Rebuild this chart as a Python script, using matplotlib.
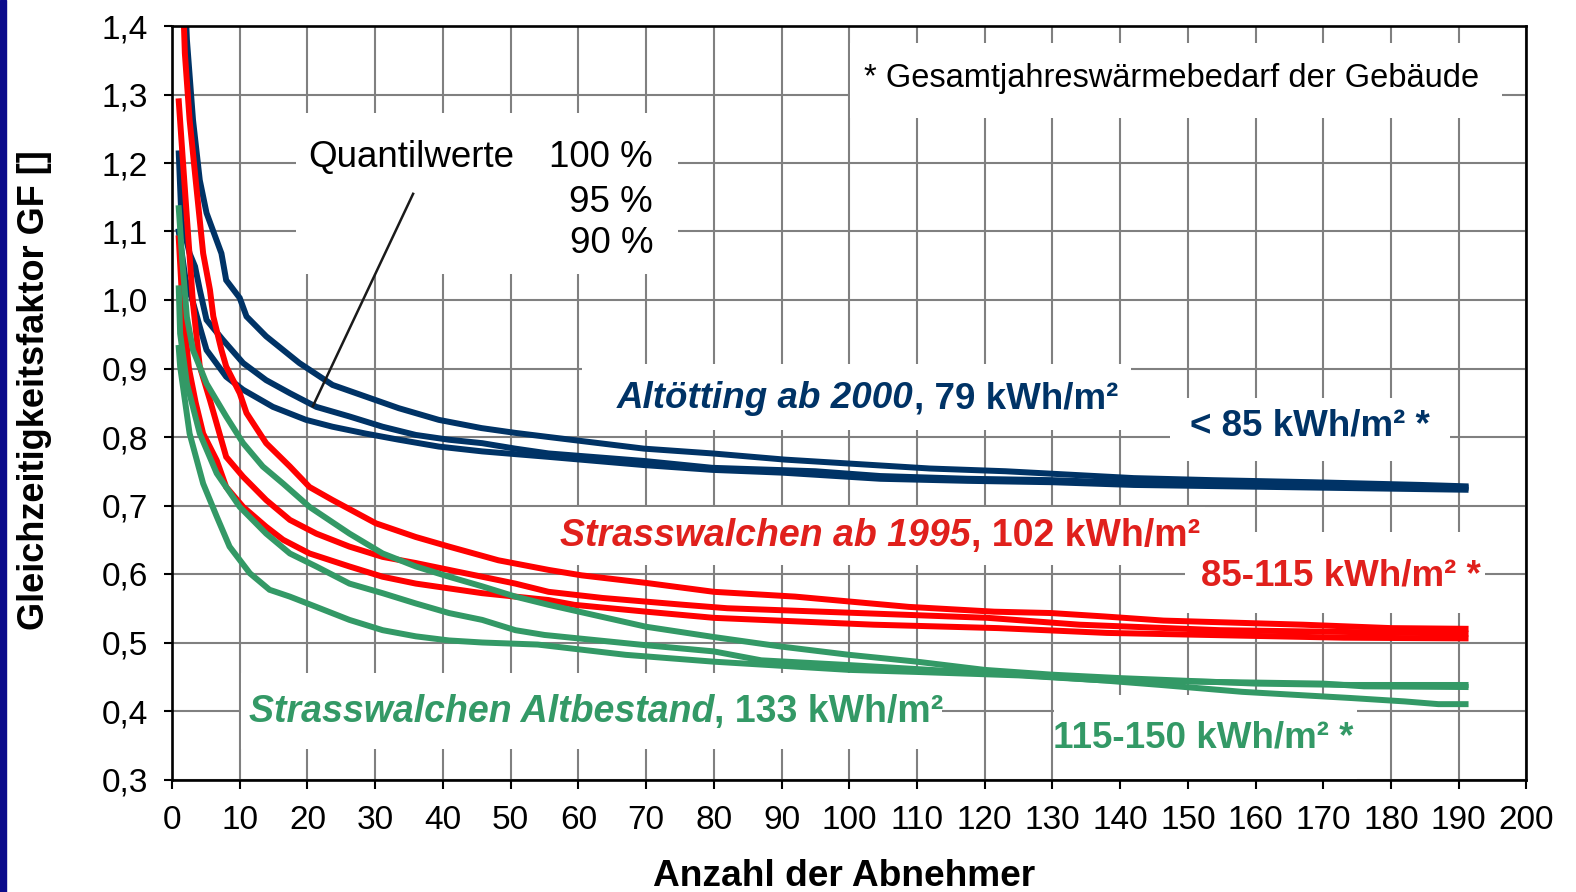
import matplotlib
matplotlib.use("Agg")
import matplotlib.pyplot as plt
from matplotlib.patches import Rectangle

plt.rcParams["font.family"] = ["Liberation Sans", "DejaVu Sans"]

W, H = 1576, 892

# Gleichzeitigkeitsfaktor curves (x = Anzahl der Abnehmer)
blue_100_x = [1.6, 2.2, 3.1, 4.1, 5.1, 7.3, 8, 10, 11, 13.9, 18.8, 23.7, 28.6, 33.5, 39.4, 45.7, 50.7, 55.6,
              69.7, 79.8, 90.5, 111.9, 123.1, 142, 153.6, 168.3, 184.5, 191]
blue_100_y = [1.52, 1.38, 1.263, 1.175, 1.127, 1.068, 1.029, 1.003, 0.976, 0.947, 0.908, 0.876, 0.859, 0.842,
              0.825, 0.813, 0.806, 0.80, 0.783, 0.776, 0.767, 0.754, 0.75, 0.740, 0.737, 0.734, 0.73, 0.728]
blue_95_x = [1, 1.4, 2.6, 3.4, 4.1, 5.1, 7.5, 10.5, 13.9, 17.4, 21.3, 26.2, 31.1, 36, 40.9, 45.8, 50.7, 55.6,
             69.7, 79.8, 95, 104.6, 117.5, 129.9, 142, 191]
blue_95_y = [1.214, 1.117, 1.068, 1.049, 1.015, 0.971, 0.942, 0.908, 0.883, 0.864, 0.844, 0.83, 0.815, 0.803,
             0.796, 0.791, 0.783, 0.776, 0.765, 0.755, 0.75, 0.743, 0.739, 0.737, 0.733, 0.726]
blue_90_x = [1, 2, 3, 4.1, 5.1, 8, 10.5, 14.9, 19.8, 23.7, 28.6, 33.5, 39.4, 45.8, 55.6, 69.7, 79.8, 90,
             104.6, 117.5, 129.9, 142, 191]
blue_90_y = [1.10, 1.03, 1.0, 0.961, 0.927, 0.888, 0.869, 0.844, 0.825, 0.815, 0.805, 0.796, 0.786, 0.779,
             0.771, 0.759, 0.752, 0.748, 0.739, 0.736, 0.734, 0.73, 0.723]

red_100_x = [1.5, 1.9, 2.6, 3.6, 4.6, 5.6, 6.1, 7.3, 8, 10, 11, 13.9, 17.4, 20.3, 23.7, 30.1, 36, 40.9, 48.2,
             55.6, 60.5, 70, 80, 92, 108.8, 121.4, 129.8, 137.7, 146.4, 167, 180, 191]
red_100_y = [1.48, 1.36, 1.263, 1.165, 1.068, 1.015, 0.976, 0.927, 0.903, 0.864, 0.835, 0.791, 0.757, 0.727,
             0.708, 0.674, 0.654, 0.64, 0.62, 0.606, 0.598, 0.587, 0.574, 0.567, 0.552, 0.545, 0.543, 0.538,
             0.532, 0.526, 0.521, 0.52]
red_95_x = [1, 1.7, 2.4, 3.1, 4.1, 5.6, 8, 10.5, 13.9, 17.4, 21.3, 26.2, 31.1, 36, 40.9, 45.8, 50.7, 55.6,
            63.6, 75.6, 82, 101.4, 120.4, 134, 154.7, 176, 191]
red_95_y = [1.29, 1.19, 1.092, 0.995, 0.903, 0.854, 0.771, 0.742, 0.708, 0.679, 0.659, 0.64, 0.625, 0.616,
            0.606, 0.596, 0.586, 0.574, 0.565, 0.555, 0.55, 0.543, 0.536, 0.526, 0.518, 0.515, 0.513]
red_90_x = [1, 1.5, 2.5, 3.5, 4.6, 6.6, 8, 10.5, 13.9, 16.4, 20.3, 26.2, 31.1, 36, 45.8, 55.6, 59.4, 70, 80,
            103.6, 122, 138, 173, 191]
red_90_y = [1.09, 1.0, 0.9, 0.85, 0.805, 0.766, 0.727, 0.698, 0.669, 0.65, 0.63, 0.611, 0.596, 0.586, 0.572,
            0.562, 0.555, 0.545, 0.536, 0.526, 0.521, 0.514, 0.507, 0.506]

green_100_x = [1, 1.5, 2.2, 3.1, 5.1, 8, 10.5, 13.4, 16.4, 20.3, 26.2, 31.1, 36, 40.9, 45.8, 50.7, 55.6, 70,
               80, 90, 100, 110, 120, 130, 140, 160, 174, 191]
green_100_y = [1.134, 1.06, 0.975, 0.927, 0.878, 0.83, 0.791, 0.757, 0.732, 0.698, 0.659, 0.63, 0.611, 0.596,
               0.582, 0.567, 0.555, 0.523, 0.508, 0.494, 0.482, 0.472, 0.46, 0.453, 0.448, 0.44, 0.438, 0.438]
green_95_x = [1, 1.2, 2.2, 4.1, 6.6, 10, 13.9, 17.4, 21.3, 26.2, 31.1, 36, 40.9, 45.8, 50.7, 55, 70, 80, 87,
              100, 112, 125, 137, 150, 170, 176, 191]
green_95_y = [1.017, 0.951, 0.878, 0.805, 0.747, 0.698, 0.659, 0.63, 0.611, 0.586, 0.572, 0.557, 0.543, 0.533,
              0.518, 0.511, 0.496, 0.487, 0.474, 0.467, 0.46, 0.453, 0.445, 0.443, 0.44, 0.436, 0.435]
green_90_x = [1, 1.2, 2.6, 4.6, 6.6, 8.5, 11.5, 14.4, 17.4, 21.3, 26.2, 31.1, 36, 40.9, 45.8, 54, 67, 80, 100,
              110, 125, 137, 146, 158, 174, 182, 187, 191]
green_90_y = [0.93, 0.903, 0.805, 0.732, 0.684, 0.64, 0.601, 0.577, 0.567, 0.552, 0.533, 0.518, 0.509, 0.503,
              0.50, 0.497, 0.482, 0.472, 0.46, 0.457, 0.452, 0.445, 0.438, 0.428, 0.419, 0.414, 0.41, 0.41]

pointer_x = [35.6, 20.8]
pointer_y = [1.155, 0.845]

x_ticks = list(range(0, 201, 10))
y_ticks = [0.3, 0.4, 0.5, 0.6, 0.7, 0.8, 0.9, 1.0, 1.1, 1.2, 1.3, 1.4]
y_ticklabels = ["0,3", "0,4", "0,5", "0,6", "0,7", "0,8", "0,9", "1,0", "1,1", "1,2", "1,3", "1,4"]

navy = "#003366"
red = "#ff0000"
green = "#339966"
red_txt = "#e0201c"

fig = plt.figure(figsize=(W / 100, H / 100), dpi=100)
ax_l, ax_r, ax_t, ax_b = 172, 1526.5, 26, 779.5
ax = fig.add_axes([ax_l / W, 1 - ax_b / H, (ax_r - ax_l) / W, (ax_b - ax_t) / H])

# dark blue slide border on the left
fig.patches.append(Rectangle((0, 0), 6 / W, 1, transform=fig.transFigure, color="#0b0b8b", zorder=0))

ax.set_xlim(0, 200)
ax.set_ylim(0.3, 1.4)
ax.set_xticks(x_ticks)
ax.set_yticks(y_ticks)
ax.set_yticklabels(y_ticklabels)
ax.tick_params(axis="x", length=6.5, width=1.5, pad=12, labelsize=24)
ax.tick_params(axis="y", length=6, width=1.5, pad=11.5, labelsize=24)
ax.set_axisbelow(True)
ax.grid(True, color="#808080", linewidth=1.5)
for s in ax.spines.values():
    s.set_linewidth(1.9)
    s.set_color("black")


def px_box(x0, y0, x1, y1):
    # white box behind labels, pixel coords of the picture
    ax.add_patch(Rectangle(((x0 - ax_l) / (ax_r - ax_l), (ax_b - y1) / (ax_b - ax_t)),
                           (x1 - x0) / (ax_r - ax_l), (y1 - y0) / (ax_b - ax_t),
                           transform=ax.transAxes, facecolor="white", edgecolor="none", zorder=1.5))


px_box(850, 43, 1502, 118)
px_box(296, 113, 678, 274)
px_box(582, 364, 1131, 430)
px_box(1170, 398, 1450, 461)
px_box(550, 507, 1205, 565)
px_box(1185, 532, 1485, 613)
px_box(241, 673, 942, 749)
px_box(1054, 695, 1357, 779)

for xs, ys, c in [(blue_100_x, blue_100_y, navy), (blue_95_x, blue_95_y, navy), (blue_90_x, blue_90_y, navy),
                  (red_100_x, red_100_y, red), (red_95_x, red_95_y, red), (red_90_x, red_90_y, red),
                  (green_100_x, green_100_y, green), (green_95_x, green_95_y, green),
                  (green_90_x, green_90_y, green)]:
    ax.plot(xs, ys, color=c, linewidth=4.3, solid_joinstyle="miter", zorder=2)

ax.plot(pointer_x, pointer_y, color="#1a1a1a", linewidth=1.8, zorder=3)


def ftext(x, y, s, **kw):
    return fig.text(x / W, 1 - y / H, s, va="baseline", **kw)


def two_part(x, y, first, rest, color, size=26.5):
    t1 = ftext(x, y, first, color=color, fontsize=size, fontweight="bold", fontstyle="italic", zorder=5)
    ax.annotate(rest, xy=(1, 0), xycoords=t1, va="bottom", ha="left", color=color, fontsize=size,
                fontweight="bold", annotation_clip=False, zorder=5)


ftext(864, 87, "* Gesamtjahreswärmebedarf der Gebäude", fontsize=23.5, zorder=5)
ftext(308, 167, "Quantilwerte", fontsize=26.5, zorder=5)
ftext(653, 167, "100 %", fontsize=26.5, ha="right", zorder=5)
ftext(653, 211.5, "95 %", fontsize=26.5, ha="right", zorder=5)
ftext(653, 252.5, "90 %", fontsize=26.5, ha="right", zorder=5)

two_part(617, 408, "Altötting ab 2000", ", 79 kWh/m²", navy)
ftext(1190, 435, "< 85 kWh/m² *", color=navy, fontsize=26.5, fontweight="bold", zorder=5)
two_part(560, 546, "Strasswalchen ab 1995", ", 102 kWh/m²", red_txt, size=27)
ftext(1201, 586, "85-115 kWh/m² *", color=red_txt, fontsize=26.5, fontweight="bold", zorder=5)
two_part(249, 722, "Strasswalchen Altbestand", ", 133 kWh/m²", green, size=27)
ftext(1053, 748, "115-150 kWh/m² *", color=green, fontsize=26.5, fontweight="bold", zorder=5)

fig.text(844 / W, 1 - 886 / H, "Anzahl der Abnehmer", fontsize=26.7, fontweight="bold",
         ha="center", va="baseline")
fig.text(35 / W, 1 - 390 / H, "Gleichzeitigkeitsfaktor GF []", fontsize=26, fontweight="bold",
         ha="center", va="center", rotation=90)

fig.savefig("out.png", dpi=100)
